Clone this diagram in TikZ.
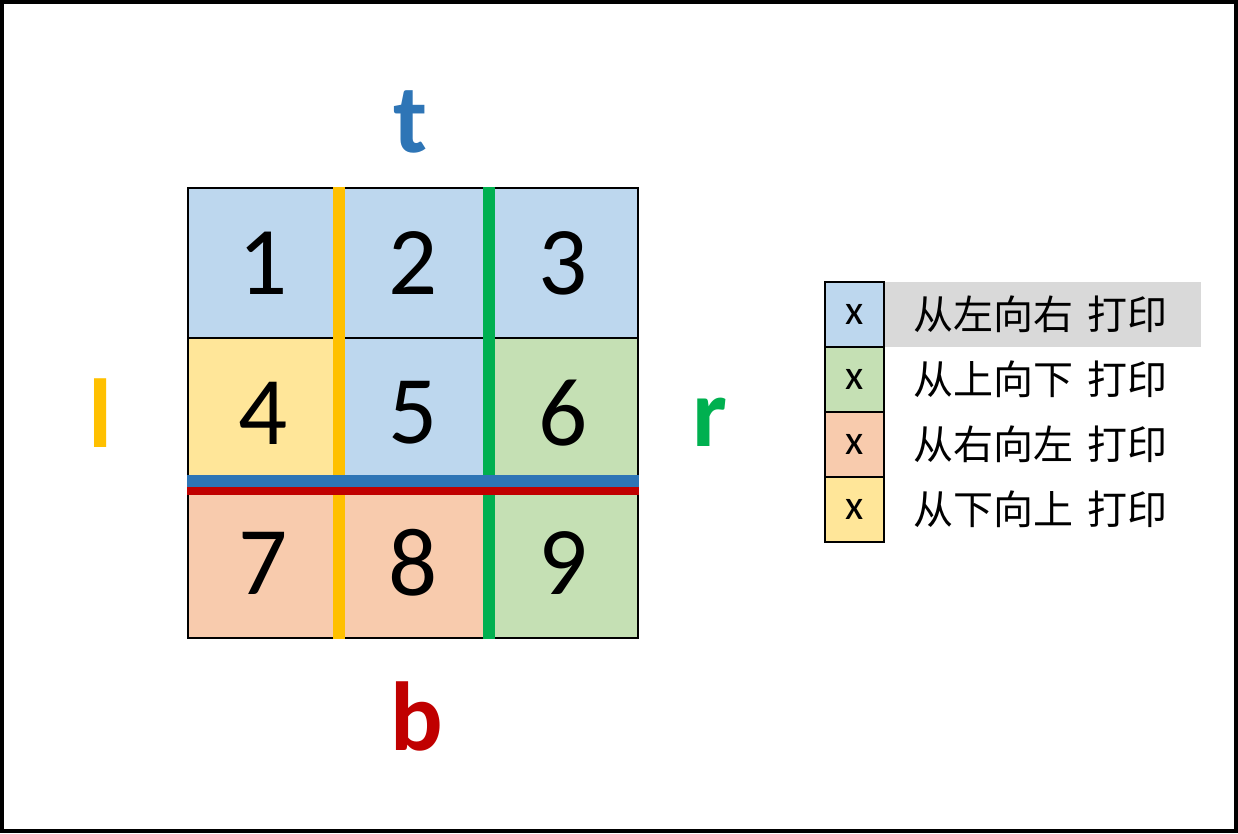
\documentclass[tikz,border=0pt]{standalone}
\usepackage{fontspec}
\setmainfont{Carlito}
\newfontfamily\cjk{Noto Sans CJK SC}
\usetikzlibrary{positioning}

\definecolor{cellblue}{HTML}{BDD7EE}
\definecolor{cellyellow}{HTML}{FFE699}
\definecolor{cellgreen}{HTML}{C5E0B4}
\definecolor{cellorange}{HTML}{F8CBAD}
\definecolor{hlgray}{HTML}{D9D9D9}
\definecolor{ltblue}{HTML}{2E75B6}
\definecolor{ltyellow}{HTML}{FFC000}
\definecolor{ltgreen}{HTML}{00B050}
\definecolor{ltred}{HTML}{C00000}

\tikzset{
    cell/.style={draw=black,line width=1.2pt,minimum size=150pt,inner sep=0pt,
                 font=\fontsize{97}{100}\selectfont},
    side/.style={inner sep=0pt,font=\fontsize{98}{100}\selectfont\bfseries},
    key/.style={draw=black,line width=1.2pt,minimum width=59pt,minimum height=65pt,
                inner sep=0pt,font=\fontsize{42}{42}\selectfont},
    legtext/.style={anchor=west,text width=258pt,inner xsep=29pt,inner ysep=0pt,
                    minimum height=65pt,align=left,font=\fontsize{40}{40}\cjk},
    bar/.style={line width=12pt}
}

\begin{document}
\begin{tikzpicture}[x=1pt,y=-1pt,node distance=150pt,on grid]
    \useasboundingbox (0,0) rectangle (1238,833);
    \draw[line width=4pt] (2,2) rectangle (1236,831);

    % the 3x3 grid
    \node[cell,fill=cellblue]   (c1) at (263,263)  {1};
    \node[cell,fill=cellblue]   (c2) [right=of c1] {2};
    \node[cell,fill=cellblue]   (c3) [right=of c2] {3};
    \node[cell,fill=cellyellow] (c4) [below=of c1] {4};
    \node[cell,fill=cellblue]   (c5) [right=of c4] {5};
    \node[cell,fill=cellgreen]  (c6) [right=of c5] {6};
    \node[cell,fill=cellorange] (c7) [below=of c4] {7};
    \node[cell,fill=cellorange] (c8) [right=of c7] {8};
    \node[cell,fill=cellgreen]  (c9) [right=of c8] {9};

    \draw[bar,ltyellow] (c1.north east) -- (c7.south east);
    \draw[bar,ltgreen]  (c2.north east) -- (c8.south east);
    \draw[line width=13pt,ltblue] ([yshift=7.5pt]c4.south west) -- ([yshift=7.5pt]c6.south east);
    \draw[line width=7.5pt,ltred] ([yshift=-2.5pt]c4.south west) -- ([yshift=-2.5pt]c6.south east);

    % side labels
    \node[side,ltblue]   (t) [above=141pt of c2,xshift=-3pt] {t};
    \node[side,ltyellow] (l) [left=162pt of c4]              {l};
    \node[side,ltgreen]  (r) [right=147pt of c6,yshift=-9pt] {r};
    \node[side,ltred]    (b) [below=153pt of c8,xshift=4pt]  {b};

    % legend
    \node[key,fill=cellblue]   (k1) at (854.5,314.5) {x};
    \node[key,fill=cellgreen]  (k2) [below=65pt of k1] {x};
    \node[key,fill=cellorange] (k3) [below=65pt of k2] {x};
    \node[key,fill=cellyellow] (k4) [below=65pt of k3] {x};

    \node[legtext,fill=hlgray] (s1) at (k1.east) {从左向右 打印};
    \node[legtext]             (s2) at (k2.east) {从上向下 打印};
    \node[legtext]             (s3) at (k3.east) {从右向左 打印};
    \node[legtext]             (s4) at (k4.east) {从下向上 打印};
\end{tikzpicture}
\end{document}
